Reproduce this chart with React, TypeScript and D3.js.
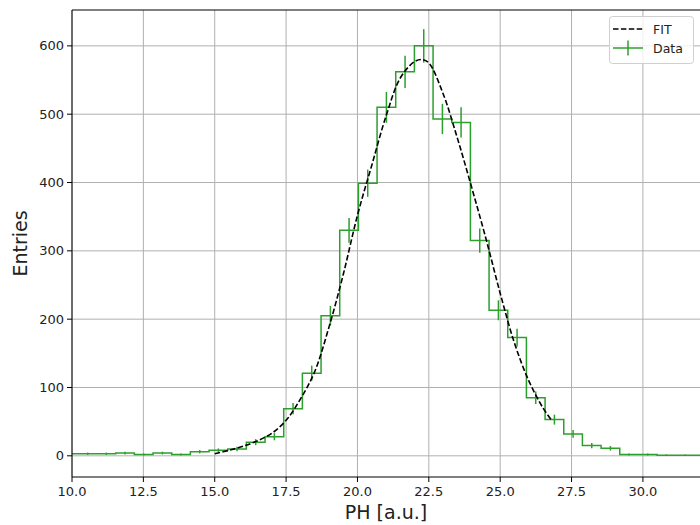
import React from "react";
import * as d3 from "d3";

// Histogram structure (bin edges start + width)
const binStart = 9.569;
const binWidth = 0.654;
const counts = [
  3, 3, 3, 4, 2, 4, 2, 6, 8, 10, 20, 28, 69, 121, 205, 330, 399, 510, 562, 600,
  493, 488, 315, 213, 173, 85, 53, 32, 15, 11, 2, 2, 1, 1, 1,
];

// Fit curve
const fitX = [15.0, 15.5, 16.0, 16.5, 17.0, 17.5, 18.0, 18.5, 19.0, 19.5, 20.0, 20.5, 21.0, 21.5, 22.0, 22.25, 22.5, 23.0, 23.5, 24.0, 24.5, 25.0, 25.5, 26.0, 26.5, 26.8];
const fitY = [3, 8, 14, 22, 33, 52, 83, 123, 188, 265, 352, 425, 497, 553, 577, 580, 575, 530, 465, 393, 318, 238, 165, 110, 70, 52];

const xTicks = [10, 12.5, 15, 17.5, 20, 22.5, 25, 27.5, 30];
const yTicks = [0, 100, 200, 300, 400, 500, 600];

const W = 700;
const H = 525;
const left = 72;
const right = 700;
const top = 10;
const bottom = 477;
const green = "#2ca02c";
const font = "DejaVu Sans, sans-serif";

export default function App() {
  const x = d3.scaleLinear().domain([10, 32]).range([left, right]);
  const y = d3.scaleLinear().domain([-31, 652.5]).range([bottom, top]);

  const bins = counts.map((c, i) => ({ center: binStart + binWidth * (i + 0.5), count: c }));

  const stepLine = d3
    .line<{ center: number; count: number }>()
    .x((d) => x(d.center))
    .y((d) => y(d.count))
    .curve(d3.curveStep);

  const fitPts = fitX.map((v, i) => [v, fitY[i]] as [number, number]);
  const fitLine = d3
    .line<[number, number]>()
    .x((d) => x(d[0]))
    .y((d) => y(d[1]))
    .curve(d3.curveCatmullRom);

  return (
    <svg
      width={W}
      height={H}
      style={{ position: "absolute", left: 0, top: 0, background: "#fff" }}
      fontFamily={font}
    >
      <defs>
        <clipPath id="plot">
          <rect x={left} y={top} width={right - left} height={bottom - top} />
        </clipPath>
      </defs>
      <rect x={0} y={0} width={W} height={H} fill="#fff" />
      {/* grid */}
      <g stroke="#b0b0b0" strokeWidth={1}>
        {xTicks.map((t) => (
          <line key={"gx" + t} x1={x(t)} x2={x(t)} y1={top} y2={bottom} />
        ))}
        {yTicks.map((t) => (
          <line key={"gy" + t} x1={left} x2={right} y1={y(t)} y2={y(t)} />
        ))}
      </g>
      <g clipPath="url(#plot)">
        <path d={stepLine(bins) || ""} fill="none" stroke={green} strokeWidth={1.5} />
        {bins.map((b, i) => (
          <line
            key={"e" + i}
            x1={x(b.center)}
            x2={x(b.center)}
            y1={y(b.count - Math.sqrt(b.count))}
            y2={y(b.count + Math.sqrt(b.count))}
            stroke={green}
            strokeWidth={1.5}
          />
        ))}
        <path
          d={fitLine(fitPts) || ""}
          fill="none"
          stroke="#000"
          strokeWidth={1.6}
          strokeDasharray="5.5,2.4"
        />
      </g>
      {/* spines: top, left, bottom */}
      <g stroke="#000" strokeWidth={1}>
        <line x1={left} x2={right} y1={top} y2={top} />
        <line x1={left} x2={left} y1={top} y2={bottom} />
        <line x1={left} x2={right} y1={bottom} y2={bottom} />
      </g>
      {/* x ticks */}
      {xTicks.map((t) => (
        <g key={"xt" + t}>
          <line x1={x(t)} x2={x(t)} y1={bottom} y2={bottom + 5} stroke="#000" />
          <text x={x(t)} y={bottom + 19} textAnchor="middle" fontSize={13} fill="#222">
            {t.toFixed(1)}
          </text>
        </g>
      ))}
      {yTicks.map((t) => (
        <g key={"yt" + t}>
          <line x1={left - 5} x2={left} y1={y(t)} y2={y(t)} stroke="#000" />
          <text x={left - 8} y={y(t) + 4.5} textAnchor="end" fontSize={13} fill="#222">
            {t}
          </text>
        </g>
      ))}
      <text x={(left + right) / 2} y={519} textAnchor="middle" fontSize={19} fill="#222">
        PH [a.u.]
      </text>
      <text transform={`translate(27,${(top + bottom) / 2}) rotate(-90)`} textAnchor="middle" fontSize={19} fill="#222">
        Entries
      </text>
      {/* legend */}
      <g>
        <rect x={609.5} y={16.5} width={84} height={47} rx={3} fill="#fff" fillOpacity={0.8} stroke="#d0d0d0" />
        <line x1={613} x2={643} y1={29} y2={29} stroke="#000" strokeWidth={1.5} strokeDasharray="5.5,2.4" />
        <text x={653} y={33.5} fontSize={12.5} fill="#222">FIT</text>
        <line x1={613} x2={643} y1={48} y2={48} stroke={green} strokeWidth={1.5} />
        <line x1={628} x2={628} y1={40.5} y2={55.5} stroke={green} strokeWidth={1.5} />
        <text x={653} y={52.5} fontSize={12.5} fill="#222">Data</text>
      </g>
    </svg>
  );
}
